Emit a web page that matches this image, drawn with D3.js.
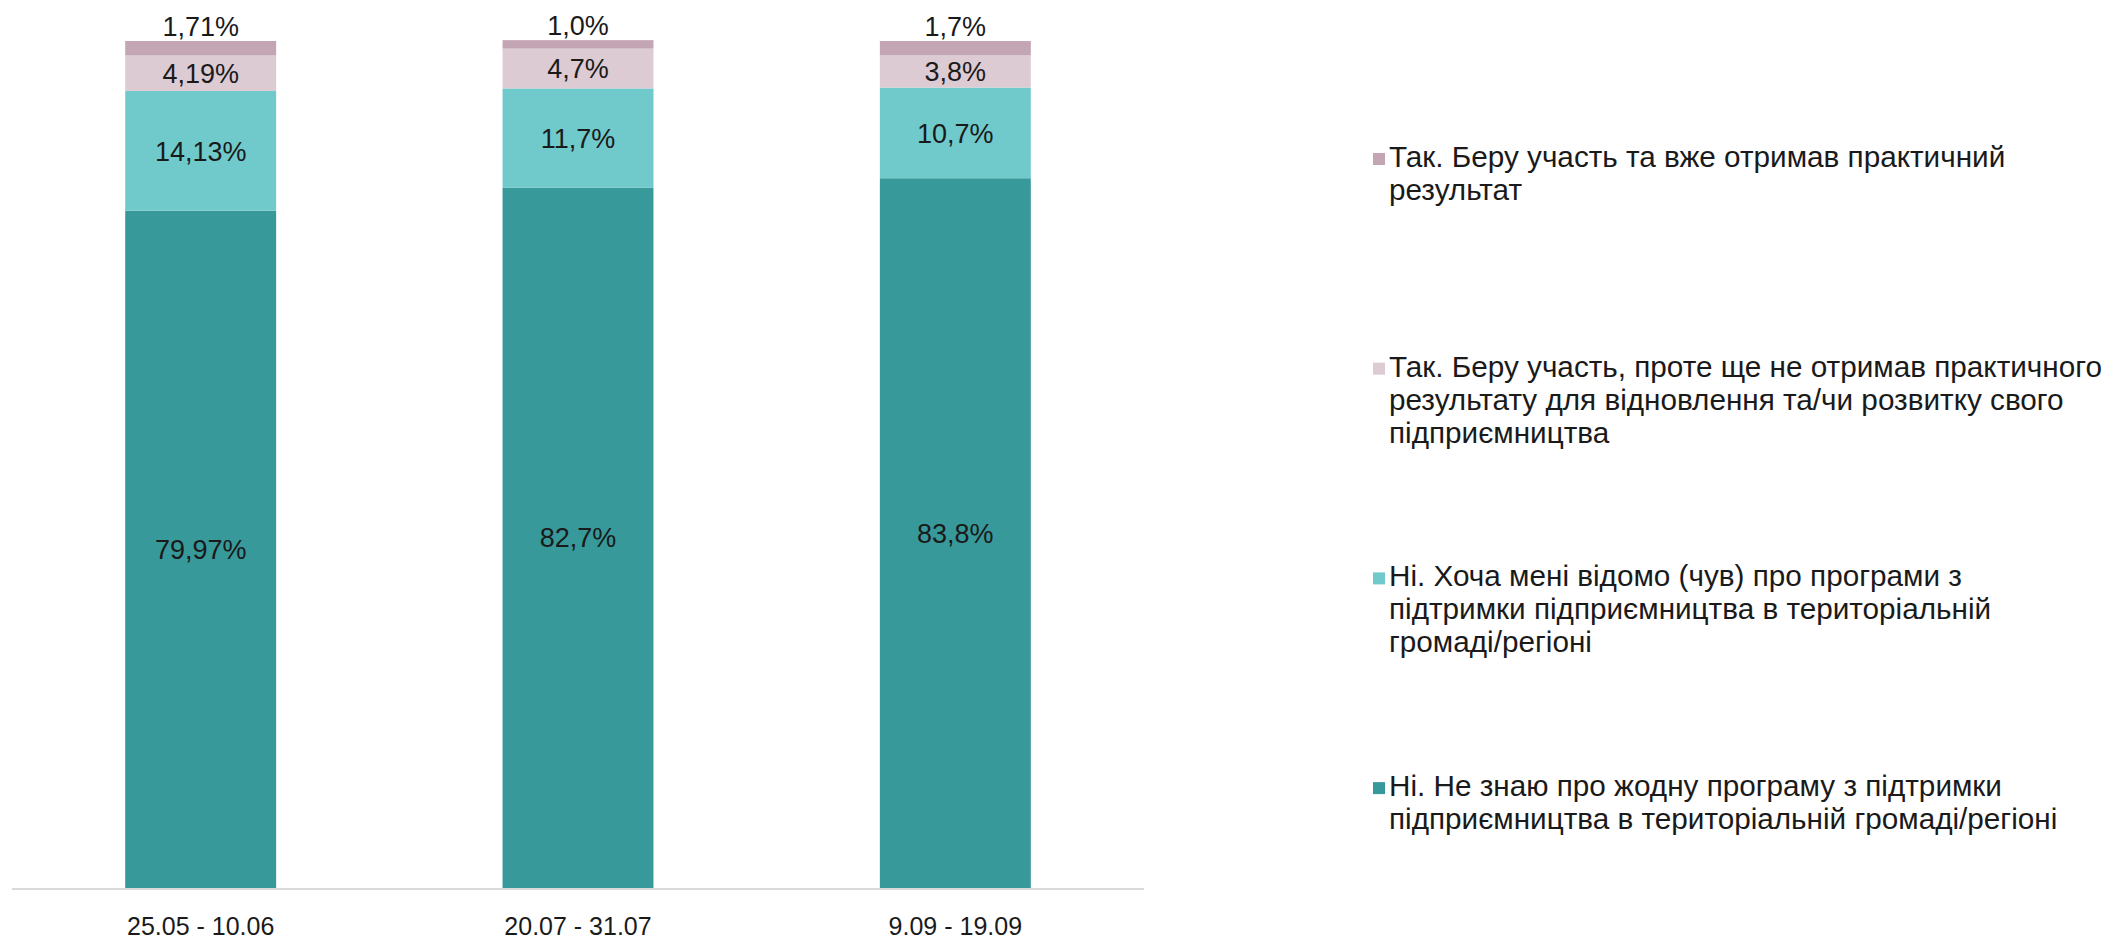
<!DOCTYPE html>
<html>
<head>
<meta charset="utf-8">
<script src="https://cdn.jsdelivr.net/npm/d3@7"></script>
<style>
  html, body { margin: 0; padding: 0; background: #ffffff; }
  svg { display: block; }
</style>
</head>
<body>
<svg id="chart" width="2110" height="941"></svg>
<script>
// ---- data ----
const categories = ["25.05 - 10.06", "20.07 - 31.07", "9.09 - 19.09"];
// stacked bottom -> top
const seriesNames = [
  "Ні. Не знаю про жодну програму з підтримки підприємництва в територіальній громаді/регіоні",
  "Ні. Хоча мені відомо (чув) про програми з підтримки підприємництва в територіальній громаді/регіоні",
  "Так. Беру участь, проте ще не отримав практичного результату для відновлення та/чи розвитку свого підприємництва",
  "Так. Беру участь та вже отримав практичний результат"
];
const notKnow    = [79.97, 82.7, 83.8];
const knowHeard  = [14.13, 11.7, 10.7];
const noResult   = [4.19, 4.7, 3.8];
const gotResult  = [1.71, 1.0, 1.7];
const valueLabels = [
  ["79,97%", "82,7%", "83,8%"],
  ["14,13%", "11,7%", "10,7%"],
  ["4,19%", "4,7%", "3,8%"],
  ["1,71%", "1,0%", "1,7%"]
];
// legend lines (top -> bottom in legend)
const legendLines = [
  ["Так. Беру участь та вже отримав практичний", "результат"],
  ["Так. Беру участь, проте ще не отримав практичного", "результату для відновлення та/чи розвитку свого", "підприємництва"],
  ["Ні. Хоча мені відомо (чув) про програми з", "підтримки підприємництва в територіальній", "громаді/регіоні"],
  ["Ні. Не знаю про жодну програму з підтримки", "підприємництва в територіальній громаді/регіоні"]
];
const colors = ["#38999b", "#70cacb", "#ddcbd3", "#c4a5b3"];

// ---- build ----
const seriesValues = [notKnow, knowHeard, noResult, gotResult];
const table = categories.map((c, i) => {
  const row = { cat: c };
  seriesValues.forEach((arr, k) => row["s" + k] = arr[i]);
  return row;
});
const keys = seriesValues.map((_, k) => "s" + k);
const stacked = d3.stack().keys(keys)(table);

const svg = d3.select("#chart");
const x = d3.scaleBand().domain(categories).range([12, 1144]).paddingInner(0.6).paddingOuter(0.3);
const y = d3.scaleLinear().domain([0, 100]).range([888, 41]);

const font = "'Liberation Sans', Arial, sans-serif";

// bars
const layers = svg.append("g").selectAll("g").data(stacked).join("g")
  .attr("fill", (d, k) => colors[k]);
layers.selectAll("rect").data(d => d).join("rect")
  .attr("x", d => x(d.data.cat))
  .attr("width", x.bandwidth())
  .attr("y", d => y(d[1]))
  .attr("height", d => y(d[0]) - y(d[1]));

// labels
stacked.forEach((layer, k) => {
  svg.append("g").selectAll("text").data(layer).join("text")
    .attr("x", d => x(d.data.cat) + x.bandwidth() / 2)
    .attr("y", d => k === 3 ? y(d[1]) - 5 : (y(d[0]) + y(d[1])) / 2)
    .attr("dy", k === 3 ? 0 : "0.36em")
    .attr("text-anchor", "middle")
    .attr("font-family", font)
    .attr("font-size", 27)
    .attr("fill", "#1a1a1a")
    .text((d, i) => valueLabels[k][i]);
});

// x axis
const axis = svg.append("g").attr("transform", "translate(0,889)")
  .call(d3.axisBottom(x).tickSize(0).tickPadding(28));
axis.select(".domain").attr("stroke", "#d9d9d9").attr("stroke-width", 2)
  .attr("d", "M12,0H1144");
axis.selectAll("text")
  .attr("font-family", font)
  .attr("font-size", 25)
  .attr("fill", "#1a1a1a");

// legend
const legendColors = [colors[3], colors[2], colors[1], colors[0]];
const lg = svg.append("g").attr("transform", "translate(1373,0)");
legendLines.forEach((lines, i) => {
  const base = 167 + i * 209.7;
  lg.append("rect")
    .attr("x", 0).attr("y", base - 14)
    .attr("width", 12).attr("height", 12)
    .attr("fill", legendColors[i]);
  const t = lg.append("text")
    .attr("x", 16).attr("y", base)
    .attr("font-family", font)
    .attr("font-size", 29.7)
    .attr("fill", "#1a1a1a");
  lines.forEach((ln, j) => {
    t.append("tspan").attr("x", 16).attr("y", base + j * 33).text(ln);
  });
});
</script>
</body>
</html>
